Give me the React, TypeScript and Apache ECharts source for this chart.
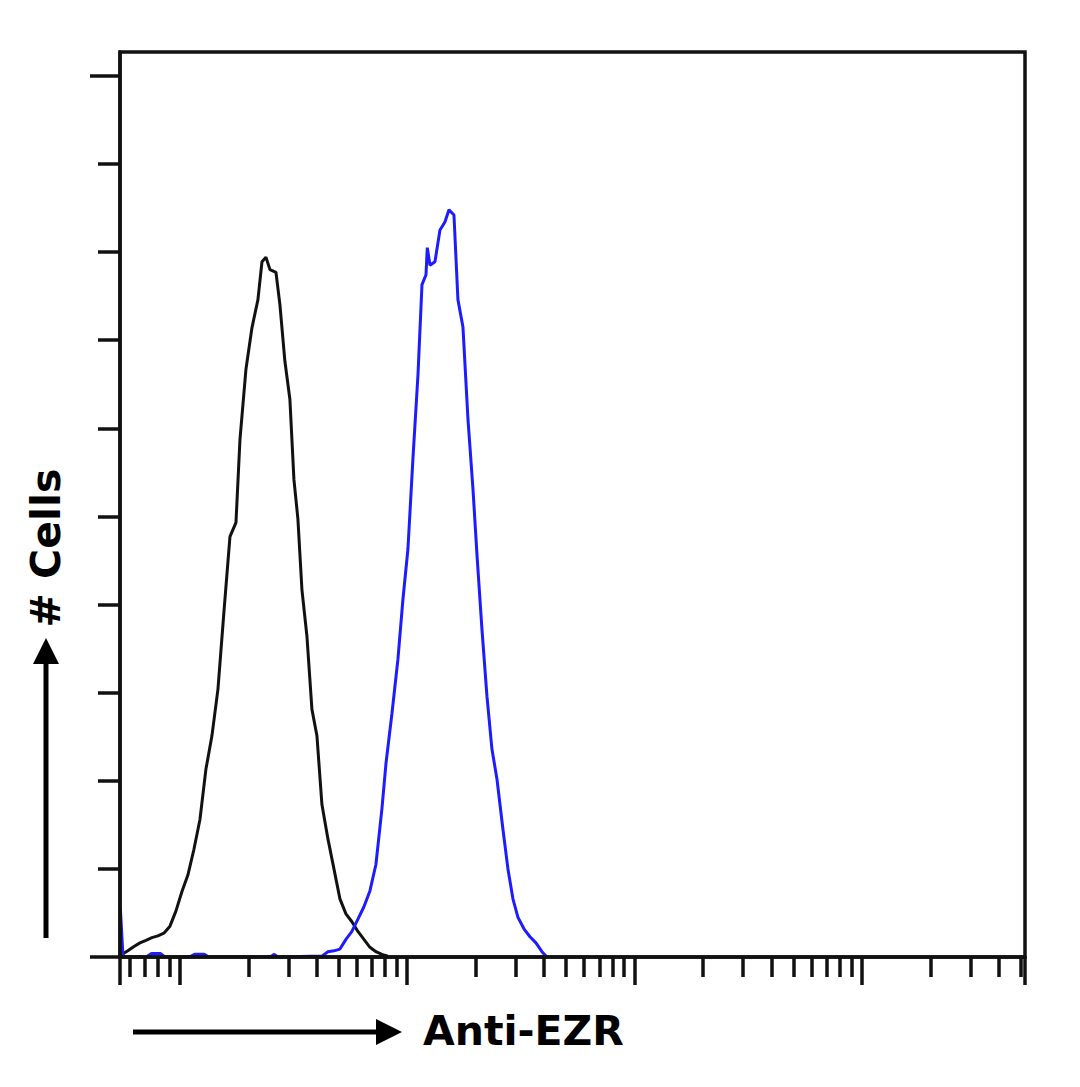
import React, { useEffect, useRef } from "react";
import * as echarts from "echarts";

// Fluorescence intensity (log axis) and cell counts
const blackX = [5.56, 5.9, 6.28, 6.67, 7.09, 7.53, 8.0, 8.5, 9.04, 9.6, 10.2, 10.84, 11.52, 12.25, 13.01, 13.83, 14.7, 15.62, 16.6, 17.64, 18.37, 19.52, 20.74, 22.04, 22.96, 23.91, 24.89, 26.45, 27.54, 28.96, 30.46, 31.73, 33.04, 34.41, 36.2, 38.08, 40.06, 42.14, 44.78, 47.59, 50.57, 53.74, 57.1, 60.68, 64.48, 68.52, 72.81, 77.37, 82.21];
const blackY = [0.03, 0.07, 0.12, 0.16, 0.19, 0.22, 0.24, 0.27, 0.35, 0.52, 0.74, 0.93, 1.22, 1.56, 2.13, 2.51, 3.04, 3.92, 4.77, 4.93, 5.87, 6.67, 7.14, 7.46, 7.89, 7.94, 7.8, 7.77, 7.4, 6.76, 6.33, 5.42, 4.97, 4.17, 3.64, 2.81, 2.51, 1.73, 1.34, 1.0, 0.66, 0.49, 0.4, 0.29, 0.2, 0.11, 0.06, 0.03, 0.01];

const blueX = [5.47, 5.47, 5.62, 7.1, 7.5, 8.2, 8.6, 11.0, 11.6, 12.8, 13.4, 25, 26, 27, 42.14, 44.78, 47.59, 50.57, 53.74, 57.1, 60.68, 64.48, 68.52, 72.81, 77.37, 80.57, 85.62, 91.0, 95.74, 100.7, 105.9, 111.5, 116.1, 120.9, 122.5, 125.9, 132.4, 139.3, 146.5, 152.6, 160.5, 167.1, 175.8, 185.0, 194.6, 202.6, 213.1, 224.2, 235.8, 248.1, 263.6, 277.3, 291.7, 306.9, 326.1, 346.6, 368.3, 391.4, 407.6];
const blueY = [0, 0.55, 0, 0, 0.04, 0.04, 0, 0, 0.03, 0.03, 0, 0, 0.03, 0, 0.01, 0.06, 0.07, 0.09, 0.2, 0.29, 0.43, 0.57, 0.75, 1.05, 1.68, 2.19, 2.76, 3.38, 4.06, 4.63, 5.65, 6.61, 7.63, 7.74, 8.05, 7.85, 7.89, 8.25, 8.34, 8.48, 8.42, 7.46, 7.15, 6.1, 5.31, 4.57, 3.72, 2.96, 2.36, 2.02, 1.45, 1.0, 0.66, 0.45, 0.32, 0.23, 0.16, 0.06, 0.01];

// Axis extents and tick values
const xMin = 5.45;
const xMax = 52180;
const xMajorTicks = [5.46, 10, 100, 1000, 10000, 52100];
const xMinorTicks = [6, 7, 8, 9, 20, 30, 40, 50, 60, 70, 80, 90, 200, 300, 400, 500, 600, 700, 800, 900, 2000, 3000, 4000, 5000, 6000, 7000, 8000, 9000, 20000, 30000, 40000, 50000];
const yMin = 0;
const yMax = 10.27;
const yMajorTicks = [0, 10];
const yMinorTicks = [1, 2, 3, 4, 5, 6, 7, 8, 9];

const xTitle = "Anti-EZR";
const yTitle = "# Cells";

export default function App() {
  const ref = useRef<HTMLDivElement>(null);
  useEffect(() => {
    if (!ref.current) return;
    const chart = echarts.init(ref.current, null, { renderer: "svg" });
    const axisColor = "#111";
    const font = 'bold 41px "DejaVu Sans", Verdana, sans-serif';
    const xBase = {
      type: "log" as const,
      logBase: 10,
      min: xMin,
      max: xMax,
      position: "bottom" as const,
      z: 10,
      axisLabel: { show: false },
      splitLine: { show: false },
      minorTick: { show: false },
    };
    const yBase = {
      type: "value" as const,
      min: yMin,
      max: yMax,
      position: "left" as const,
      z: 10,
      axisLabel: { show: false },
      splitLine: { show: false },
    };
    chart.setOption({
      animation: false,
      backgroundColor: "#ffffff",
      grid: {
        left: 120,
        top: 52,
        right: 55,
        bottom: 130,
        show: true,
        borderColor: axisColor,
        borderWidth: 3.5,
        backgroundColor: "transparent",
        z: 10,
      },
      xAxis: [
        {
          ...xBase,
          axisLine: { show: true, lineStyle: { color: axisColor, width: 3.5 } },
          axisTick: { show: true, customValues: xMajorTicks, length: 28, lineStyle: { color: axisColor, width: 3.5 } },
        },
        {
          ...xBase,
          axisLine: { show: false },
          axisTick: { show: true, customValues: xMinorTicks, length: 20, lineStyle: { color: axisColor, width: 3.5 } },
        },
      ],
      yAxis: [
        {
          ...yBase,
          axisLine: { show: true, lineStyle: { color: axisColor, width: 3.5 } },
          axisTick: { show: true, customValues: yMajorTicks, length: 30, lineStyle: { color: axisColor, width: 3.5 } },
        },
        {
          ...yBase,
          axisLine: { show: false },
          axisTick: { show: true, customValues: yMinorTicks, length: 22, lineStyle: { color: axisColor, width: 3.5 } },
        },
      ],
      series: [
        {
          type: "line",
          name: "control",
          xAxisIndex: 0,
          yAxisIndex: 0,
          data: blackX.map((x, i) => [x, blackY[i]]),
          showSymbol: false,
          symbol: "none",
          lineStyle: { color: "#111111", width: 3 },
          z: 2,
        },
        {
          type: "line",
          name: "Anti-EZR",
          xAxisIndex: 0,
          yAxisIndex: 0,
          data: blueX.map((x, i) => [x, blueY[i]]),
          showSymbol: false,
          symbol: "none",
          lineStyle: { color: "#1c1cff", width: 3 },
          z: 3,
        },
      ],
      graphic: [
        {
          type: "line",
          shape: { x1: 133, y1: 1032, x2: 380, y2: 1032 },
          style: { stroke: "#000", lineWidth: 5 },
        },
        {
          type: "polygon",
          shape: { points: [[376, 1019], [402, 1032], [376, 1045]] },
          style: { fill: "#000" },
        },
        {
          type: "text",
          x: 423,
          y: 1031,
          style: { text: xTitle, font, fill: "#000", textAlign: "left", textVerticalAlign: "middle" },
        },
        {
          type: "line",
          shape: { x1: 46, y1: 938, x2: 46, y2: 660 },
          style: { stroke: "#000", lineWidth: 5 },
        },
        {
          type: "polygon",
          shape: { points: [[33, 664], [46, 638], [59, 664]] },
          style: { fill: "#000" },
        },
        {
          type: "text",
          x: 46,
          y: 548,
          rotation: Math.PI / 2,
          style: { text: yTitle, font, fill: "#000", textAlign: "center", textVerticalAlign: "middle" },
        },
      ],
    });
    return () => chart.dispose();
  }, []);
  return (
    <div
      ref={ref}
      style={{ position: "absolute", left: 0, top: 0, width: 1080, height: 1087 }}
    />
  );
}
